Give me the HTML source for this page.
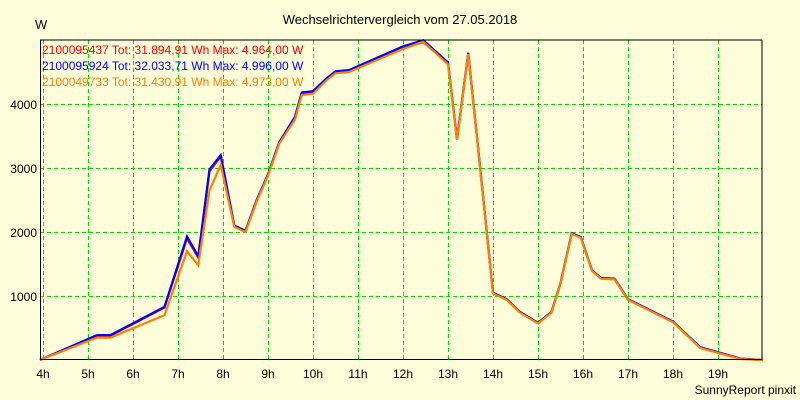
<!DOCTYPE html>
<html><head><meta charset="utf-8"><style>
body{margin:0;background:#fdfdd9;}
svg{display:block;font-family:"Liberation Sans",sans-serif;}
</style></head><body>
<svg id="c" width="800" height="400">
<rect width="800" height="400" fill="#fdfdd9"/>
<text x="400" y="24" text-anchor="middle" font-size="13">Wechselrichtervergleich vom 27.05.2018</text>
<text x="35" y="29" font-size="13">W</text>
<text x="796" y="394" text-anchor="end" font-size="12">SunnyReport pinxit</text>
<g id="grid"></g><g id="lines"></g>
<line x1="40" y1="40" x2="762" y2="40" stroke="#000"/>
<line x1="762" y1="40" x2="762" y2="360" stroke="#000"/>
<line x1="40.5" y1="40" x2="40.5" y2="360" stroke="#000"/>
<line x1="40" y1="359.5" x2="762" y2="359.5" stroke="#000"/>
<g font-size="12">
<text x="42" y="54" fill="#ff0000">2100095437 Tot: 31.894,91 Wh Max: 4.964,00 W</text>
<text x="42" y="70" fill="#0000ff">2100095924 Tot: 32.033,71 Wh Max: 4.996,00 W</text>
<text x="42" y="86" fill="#ff8000">2100049733 Tot: 31.430,91 Wh Max: 4.973,00 W</text>
</g>
</svg>
<script>
const hourTicks=[4,5,6,7,8,9,10,11,12,13,14,15,16,17,18,19];
const yTicks=[1000,2000,3000,4000];
const times=[3.93,5.2,5.5,6.7,7.2,7.45,7.7,7.95,8.25,8.5,8.75,9.0,9.25,9.6,9.75,10.0,10.3,10.5,10.8,12.0,12.45,13.0,13.2,13.45,13.7,14.0,14.3,14.6,15.0,15.3,15.5,15.75,15.95,16.2,16.4,16.7,17.0,18.0,18.6,19.1,19.5,20.0];
const redVals=[0,380,380,820,1900,1600,2950,3180,2100,2020,2500,2900,3400,3800,4170,4190,4400,4500,4520,4880,4964,4640,3450,4780,3100,1050,950,750,580,750,1200,1980,1920,1400,1280,1270,950,600,200,100,20,0];
const blueVals=[0,390,390,830,1930,1620,2980,3200,2100,2020,2500,2900,3400,3800,4180,4200,4400,4510,4530,4900,4996,4650,3450,4800,3100,1050,950,750,580,750,1200,1980,1920,1400,1280,1270,950,600,200,100,20,0];
const orangeVals=[0,350,350,700,1700,1480,2650,3050,2080,2000,2480,2880,3380,3760,4140,4160,4370,4480,4500,4860,4973,4620,3440,4780,3080,1040,940,740,570,740,1190,1970,1910,1390,1270,1260,940,590,190,90,15,0];
const X=h=>43+(h-4)*45, Y=v=>360-v*0.064;
const ns="http://www.w3.org/2000/svg";
const g=document.getElementById('grid'), lg=document.getElementById('lines'), svg=document.getElementById('c');
hourTicks.forEach(h=>{
  const l=document.createElementNS(ns,'line');
  l.setAttribute('x1',X(h)+.5);l.setAttribute('x2',X(h)+.5);l.setAttribute('y1',40);l.setAttribute('y2',360);
  l.setAttribute('stroke','#00e000');l.setAttribute('stroke-dasharray','4,3');
  
  
  g.appendChild(l);
  const t=document.createElementNS(ns,'text');
  t.setAttribute('x',X(h));t.setAttribute('y',378);t.setAttribute('text-anchor','middle');t.setAttribute('font-size','12');
  t.textContent=h+'h';
  
  
  svg.appendChild(t);
});
yTicks.forEach(v=>{
  const l=document.createElementNS(ns,'line');
  l.setAttribute('x1',40);l.setAttribute('x2',762);l.setAttribute('y1',Y(v)+.5);l.setAttribute('y2',Y(v)+.5);
  l.setAttribute('stroke','#00e000');l.setAttribute('stroke-dasharray','4,3');
  
  
  g.appendChild(l);
  const t=document.createElementNS(ns,'text');
  t.setAttribute('x',37);t.setAttribute('y',Y(v)+5);t.setAttribute('text-anchor','end');t.setAttribute('font-size','12');
  t.textContent=v;
  
  
  svg.appendChild(t);
});
[[redVals,'#ff0000','series-red'],[blueVals,'#0000ff','series-blue'],[orangeVals,'#ff8000','series-orange']].forEach(([vals,c,n])=>{
  const p=document.createElementNS(ns,'polyline');
  p.setAttribute('points',vals.map((v,i)=>X(times[i])+','+Y(v)).join(' '));
  p.setAttribute('fill','none');p.setAttribute('stroke',c);p.setAttribute('stroke-width','2.2');
  
  
  lg.appendChild(p);
});
</script>
</body></html>
